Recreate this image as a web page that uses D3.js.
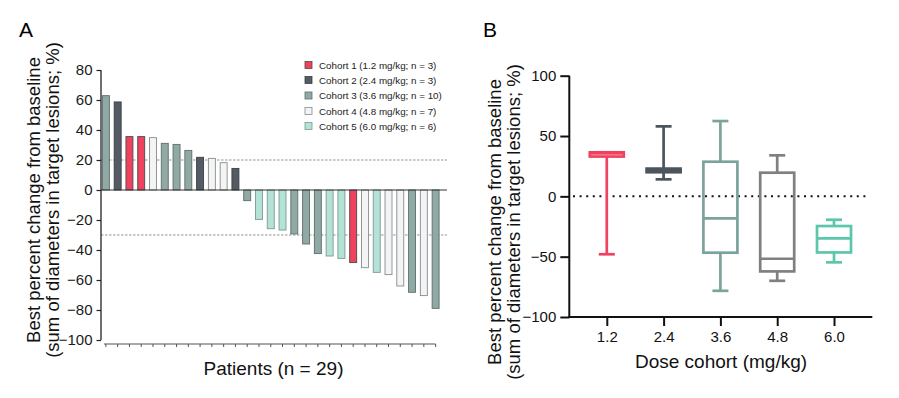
<!DOCTYPE html>
<html><head><meta charset="utf-8">
<script src="https://cdn.jsdelivr.net/npm/d3@7/dist/d3.min.js"></script>
<style>body{margin:0;background:#fff;} svg{display:block;font-family:"Liberation Sans",Arial,sans-serif;}</style>
</head><body>
<svg id="c" width="899" height="398"></svg>
<script>
// ---------- Data ----------
// Panel A: waterfall (best % change per patient, cohort index 1..5)
const patientValues = [62.9, 58.7, 35.6, 35.6, 34.9, 31.1, 30.4, 26.4, 21.8, 21.1, 18.2, 14.4,
  -7.1, -19.6, -25.8, -26.7, -29.3, -36.0, -42.4, -44.0, -45.6, -48.4, -51.8, -54.9, -56.4, -64.0, -68.2, -70.4, -78.9];
const patientCohorts = [3, 2, 1, 1, 4, 3, 3, 3, 2, 4, 4, 2,
  3, 5, 5, 5, 3, 3, 3, 5, 5, 1, 4, 5, 4, 4, 3, 4, 3];
const cohortLabels = ["Cohort 1 (1.2 mg/kg; n = 3)", "Cohort 2 (2.4 mg/kg; n = 3)", "Cohort 3 (3.6 mg/kg; n = 10)",
  "Cohort 4 (4.8 mg/kg; n = 7)", "Cohort 5 (6.0 mg/kg; n = 6)"];
const yTicksA = [80, 60, 40, 20, 0, -20, -40, -60, -80, -100];
const refLinesA = [20, -30];

// Panel B: box plots per dose cohort
const doseCohorts = ["1.2", "2.4", "3.6", "4.8", "6.0"];
const boxMin    = [-48.0, 14.1, -78.3, -70.0, -54.7];
const boxQ1     = [33.0, 20.0, -46.7, -62.2, -46.5];
const boxMedian = [35.6, 21.8, -18.2, -51.7, -34.8];
const boxQ3     = [36.5, 23.0, 28.7, 19.6, -24.6];
const boxMax    = [36.5, 58.0, 62.4, 34.0, -19.4];
const yTicksB = [100, 50, 0, -50, -100];

// ---------- Styles ----------
const barFill = {1: "#f0425f", 2: "#545b64", 3: "#90a9a4", 4: "#f3f4f6", 5: "#b4e2d6"};
const barStroke = {1: "#4a4a4a", 2: "#3a3f45", 3: "#5e6e6b", 4: "#8a8a8a", 5: "#7a9a92"};
const boxColor = ["#f0425f", "#4c545d", "#7aa39c", "#808080", "#5cc6aa"];

const svg = d3.select("#c");
const font = '"Liberation Sans", Arial, sans-serif';

// ================= Panel A =================
const yA = d3.scaleLinear().domain([-100, 80]).range([340, 70]);
const xA = d3.scaleBand().domain(d3.range(patientValues.length)).range([100, 441.5])
  .paddingInner(0.34).paddingOuter(0.17);

// reference lines
svg.selectAll(".refA").data(refLinesA).join("line")
  .attr("x1", 101).attr("x2", 447).attr("y1", d => yA(d)).attr("y2", d => yA(d))
  .attr("stroke", "#666").attr("stroke-width", 0.7).attr("stroke-dasharray", "2.5,1.5");

// bars
svg.selectAll(".barA").data(patientValues).join("rect")
  .attr("x", (d, i) => xA(i) + 0.4)
  .attr("width", xA.bandwidth() - 0.8)
  .attr("y", d => yA(Math.max(0, d)))
  .attr("height", d => Math.abs(yA(d) - yA(0)))
  .attr("fill", (d, i) => barFill[patientCohorts[i]])
  .attr("stroke", (d, i) => barStroke[patientCohorts[i]])
  .attr("stroke-width", 0.9);

// zero line
svg.append("line").attr("x1", 101).attr("x2", 447).attr("y1", yA(0)).attr("y2", yA(0))
  .attr("stroke", "#333").attr("stroke-width", 1);

// y axis
const gA = svg.append("g").attr("transform", "translate(101,0)")
  .call(d3.axisLeft(yA).tickValues(yTicksA).tickSize(4.5).tickPadding(4).tickFormat(d3.format("d")));
gA.select(".domain").attr("stroke", "#222").attr("stroke-width", 1.3).attr("d", `M0,${yA(80)}V${yA(-100)}`);
gA.selectAll(".tick line").attr("stroke", "#222").attr("stroke-width", 1.2);
gA.selectAll(".tick text").attr("font-size", 15).attr("font-family", font).attr("fill", "#1a1a1a");

// x axis (ticks only at patients)
const xAx = svg.append("g").attr("transform", "translate(0,344)")
  .call(d3.axisBottom(xA).tickSize(3).tickFormat(""));
xAx.select(".domain").attr("stroke", "#555").attr("stroke-width", 1)
  .attr("d", `M${xA(0) + xA.bandwidth() / 2 - 2},0H${xA(28) + xA.bandwidth() / 2}`);
xAx.selectAll(".tick line").attr("stroke", "#555").attr("stroke-width", 1);

// legend
const leg = svg.append("g");
const legY = [65, 80, 95.5, 111, 126];
cohortLabels.forEach((lab, i) => {
  leg.append("rect").attr("x", 305).attr("y", legY[i] - 3.5).attr("width", 7).attr("height", 7)
    .attr("fill", barFill[i + 1]).attr("stroke", barStroke[i + 1]).attr("stroke-width", 0.8);
  leg.append("text").attr("x", 319).attr("y", legY[i] + 3.5).attr("font-size", 9.8)
    .attr("font-family", font).attr("fill", "#222").text(lab);
});

// titles
svg.append("text").attr("x", 19).attr("y", 37).attr("font-size", 21).attr("font-family", font).text("A");
svg.append("text").attr("x", 273.5).attr("y", 375).attr("text-anchor", "middle").attr("font-size", 19)
  .attr("font-family", font).attr("fill", "#111").text("Patients (n = 29)");
const yTitle = ["Best percent change from baseline", "(sum of diameters in target lesions; %)"];
[[33.5, 200], [52.5, 200]].forEach((p, i) => {
  svg.append("text").attr("transform", `translate(${p[0]},${p[1]}) rotate(-90)`)
    .attr("text-anchor", "middle").attr("dy", "0.35em").attr("font-size", 18.5)
    .attr("font-family", font).attr("fill", "#111").text(yTitle[i]);
});

// ================= Panel B =================
const yB = d3.scaleLinear().domain([-100, 100]).range([317, 75.7]);
const xB = d3.scalePoint().domain(doseCohorts).range([569.3, 871.5]).padding(0.66);

// dotted zero line
svg.append("line").attr("x1", 573).attr("x2", 870).attr("y1", yB(0)).attr("y2", yB(0))
  .attr("stroke", "#111").attr("stroke-width", 2).attr("stroke-dasharray", "2,4.6");

const boxW = 34, capW = 16;
doseCohorts.forEach((c, i) => {
  const cx = xB(c), col = boxColor[i];
  const g = svg.append("g").attr("stroke", col).attr("stroke-width", 2.7).attr("fill", "none");
  // whiskers
  g.append("line").attr("x1", cx).attr("x2", cx).attr("y1", yB(boxMax[i])).attr("y2", yB(boxQ3[i]));
  g.append("line").attr("x1", cx).attr("x2", cx).attr("y1", yB(boxQ1[i])).attr("y2", yB(boxMin[i]));
  // caps
  g.append("line").attr("x1", cx - capW / 2).attr("x2", cx + capW / 2).attr("y1", yB(boxMax[i])).attr("y2", yB(boxMax[i]));
  g.append("line").attr("x1", cx - capW / 2).attr("x2", cx + capW / 2).attr("y1", yB(boxMin[i])).attr("y2", yB(boxMin[i]));
  // box
  g.append("rect").attr("x", cx - boxW / 2).attr("width", boxW)
    .attr("y", yB(boxQ3[i])).attr("height", yB(boxQ1[i]) - yB(boxQ3[i]));
  // median
  g.append("line").attr("x1", cx - boxW / 2).attr("x2", cx + boxW / 2).attr("y1", yB(boxMedian[i])).attr("y2", yB(boxMedian[i]));
});

// axes B
const gBy = svg.append("g").attr("transform", "translate(569.3,0)")
  .call(d3.axisLeft(yB).tickValues(yTicksB).tickSize(9).tickPadding(4).tickFormat(d3.format("d")));
gBy.select(".domain").attr("stroke", "#111").attr("stroke-width", 2).attr("d", `M0,${yB(100)}V${yB(-100)}`);
gBy.selectAll(".tick line").attr("stroke", "#111").attr("stroke-width", 2);
gBy.selectAll(".tick text").attr("font-size", 15).attr("font-family", font).attr("fill", "#111");

const gBx = svg.append("g").attr("transform", `translate(0,${yB(-100)})`)
  .call(d3.axisBottom(xB).tickSize(9).tickPadding(5));
gBx.select(".domain").attr("stroke", "#111").attr("stroke-width", 2).attr("d", `M568.3,0H872.3`);
gBx.selectAll(".tick line").attr("stroke", "#111").attr("stroke-width", 2);
gBx.selectAll(".tick text").attr("font-size", 15).attr("font-family", font).attr("fill", "#111");

svg.append("text").attr("x", 483).attr("y", 37).attr("font-size", 21).attr("font-family", font).text("B");
svg.append("text").attr("x", 721).attr("y", 368).attr("text-anchor", "middle").attr("font-size", 19)
  .attr("font-family", font).attr("fill", "#111").text("Dose cohort (mg/kg)");
[[495, 222], [513.5, 222]].forEach((p, i) => {
  svg.append("text").attr("transform", `translate(${p[0]},${p[1]}) rotate(-90)`)
    .attr("text-anchor", "middle").attr("dy", "0.35em").attr("font-size", 18.5)
    .attr("font-family", font).attr("fill", "#111").text(yTitle[i]);
});
</script>
</body></html>
